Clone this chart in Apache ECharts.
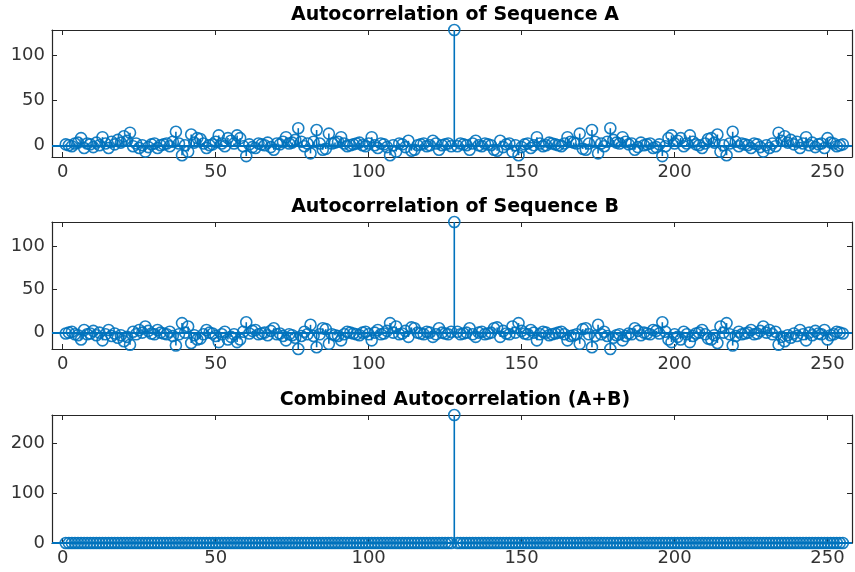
<!DOCTYPE html>
<html>
<head>
<meta charset="utf-8">
<title>Autocorrelation</title>
<script src="https://cdn.jsdelivr.net/npm/echarts@6/dist/echarts.min.js"></script>
<style>
  html, body { margin: 0; padding: 0; background: #fff; }
  #chart { width: 855px; height: 572px; }
</style>
</head>
<body>
<div id="chart"></div>
<script>
'use strict';

// titles of the three panels
var panelTitles = [
  'Autocorrelation of Sequence A',
  'Autocorrelation of Sequence B',
  'Combined Autocorrelation (A+B)'
];

// tick labels
var xTicks = [0, 50, 100, 150, 200, 250];
var yTicksA = [0, 50, 100];
var yTicksB = [0, 50, 100];
var yTicksAB = [0, 100, 200];

// first lag (x value of the first sample)
var firstLag = 1;

// autocorrelation of sequence A, lags 1..255
var seqA = [
  1, 0, -1, 2, 3, 8, -3, 2, 1, -2,
  3, 0, 9, 2, -3, 4, 1, 6, 3, 10,
  5, 14, -1, 2, -3, 0, -7, -2, 1, 2,
  -3, 0, 1, 2, -1, 4, 15, 2, -11, 0,
  -7, 12, 3, 8, 7, 2, -3, 0, 1, 4,
  11, 2, -1, 8, 5, 2, 11, 8, -1, -12,
  1, -2, -3, 2, 1, 0, 3, -2, -5, 2,
  1, 4, 9, 2, 3, 6, 19, 4, -1, 2,
  -9, 4, 17, 2, -5, -4, 13, 2, 3, 4,
  9, 2, -1, 0, 1, 2, 3, 0, -1, 2,
  9, 0, -3, 2, 1, -2, -11, 0, -7, 2,
  1, -2, 5, -6, -5, 0, 1, 2, -1, 0,
  5, 2, -5, 0, 1, 2, -1,
  128,
  -1, 2, 1, 0, -5, 2, 5,
  0, -1, 2, 1, 0, -5, -6, 5, -2, 1,
  2, -7, 0, -11, -2, 1, 2, -3, 0, 9,
  2, -1, 0, 3, 2, 1, 0, -1, 2, 9,
  4, 3, 2, 13, -4, -5, 2, 17, 4, -9,
  2, -1, 4, 19, 6, 3, 2, 9, 4, 1,
  2, -5, -2, 3, 0, 1, 2, -3, -2, 1,
  -12, -1, 8, 11, 2, 5, 8, -1, 2, 11,
  4, 1, 0, -3, 2, 7, 8, 3, 12, -7,
  0, -11, 2, 15, 4, -1, 2, 1, 0, -3,
  2, 1, -2, -7, 0, -3, 2, -1, 14, 5,
  10, 3, 6, 1, 4, -3, 2, 9, 0, 3,
  -2, 1, 2, -3, 8, 3, 2, -1, 0, 1
];

// autocorrelation of sequence B
var seqB = [
  -1, 0, 1, -2, -3, -8, 3, -2, -1, 2,
  -3, 0, -9, -2, 3, -4, -1, -6, -3, -10,
  -5, -14, 1, -2, 3, 0, 7, 2, -1, -2,
  3, 0, -1, -2, 1, -4, -15, -2, 11, 0,
  7, -12, -3, -8, -7, -2, 3, 0, -1, -4,
  -11, -2, 1, -8, -5, -2, -11, -8, 1, 12,
  -1, 2, 3, -2, -1, 0, -3, 2, 5, -2,
  -1, -4, -9, -2, -3, -6, -19, -4, 1, -2,
  9, -4, -17, -2, 5, 4, -13, -2, -3, -4,
  -9, -2, 1, 0, -1, -2, -3, 0, 1, -2,
  -9, 0, 3, -2, -1, 2, 11, 0, 7, -2,
  -1, 2, -5, 6, 5, 0, -1, -2, 1, 0,
  -5, -2, 5, 0, -1, -2, 1,
  128,
  1, -2, -1, 0, 5, -2, -5,
  0, 1, -2, -1, 0, 5, 6, -5, 2, -1,
  -2, 7, 0, 11, 2, -1, -2, 3, 0, -9,
  -2, 1, 0, -3, -2, -1, 0, 1, -2, -9,
  -4, -3, -2, -13, 4, 5, -2, -17, -4, 9,
  -2, 1, -4, -19, -6, -3, -2, -9, -4, -1,
  -2, 5, 2, -3, 0, -1, -2, 3, 2, -1,
  12, 1, -8, -11, -2, -5, -8, 1, -2, -11,
  -4, -1, 0, 3, -2, -7, -8, -3, -12, 7,
  0, 11, -2, -15, -4, 1, -2, -1, 0, 3,
  -2, -1, 2, 7, 0, 3, -2, 1, -14, -5,
  -10, -3, -6, -1, -4, 3, -2, -9, 0, -3,
  2, -1, -2, 3, -8, -3, -2, 1, 0, -1
];

// combined autocorrelation A+B
var seqAB = [
  0, 0, 0, 0, 0, 0, 0, 0, 0, 0,
  0, 0, 0, 0, 0, 0, 0, 0, 0, 0,
  0, 0, 0, 0, 0, 0, 0, 0, 0, 0,
  0, 0, 0, 0, 0, 0, 0, 0, 0, 0,
  0, 0, 0, 0, 0, 0, 0, 0, 0, 0,
  0, 0, 0, 0, 0, 0, 0, 0, 0, 0,
  0, 0, 0, 0, 0, 0, 0, 0, 0, 0,
  0, 0, 0, 0, 0, 0, 0, 0, 0, 0,
  0, 0, 0, 0, 0, 0, 0, 0, 0, 0,
  0, 0, 0, 0, 0, 0, 0, 0, 0, 0,
  0, 0, 0, 0, 0, 0, 0, 0, 0, 0,
  0, 0, 0, 0, 0, 0, 0, 0, 0, 0,
  0, 0, 0, 0, 0, 0, 0,
  256,
  0, 0, 0, 0, 0, 0, 0,
  0, 0, 0, 0, 0, 0, 0, 0, 0, 0,
  0, 0, 0, 0, 0, 0, 0, 0, 0, 0,
  0, 0, 0, 0, 0, 0, 0, 0, 0, 0,
  0, 0, 0, 0, 0, 0, 0, 0, 0, 0,
  0, 0, 0, 0, 0, 0, 0, 0, 0, 0,
  0, 0, 0, 0, 0, 0, 0, 0, 0, 0,
  0, 0, 0, 0, 0, 0, 0, 0, 0, 0,
  0, 0, 0, 0, 0, 0, 0, 0, 0, 0,
  0, 0, 0, 0, 0, 0, 0, 0, 0, 0,
  0, 0, 0, 0, 0, 0, 0, 0, 0, 0,
  0, 0, 0, 0, 0, 0, 0, 0, 0, 0,
  0, 0, 0, 0, 0, 0, 0, 0, 0, 0
];

var BLUE = '#0072BD';
var AXIS = '#262626';
var FONT = 'DejaVu Sans';

var panels = [
  { data: seqA, yTicks: yTicksA, yMin: -13, yMax: 128, top: 30, height: 127, titleTop: 6 },
  { data: seqB, yTicks: yTicksB, yMin: -19, yMax: 128, top: 222, height: 127, titleTop: 198 },
  { data: seqAB, yTicks: yTicksAB, yMin: 0, yMax: 256, top: 415, height: 128, titleTop: 391 }
];

var option = {
  animation: false,
  backgroundColor: '#fff',
  title: [], grid: [], xAxis: [], yAxis: [], series: []
};

panels.forEach(function (p, i) {
  var pairs = p.data.map(function (v, k) { return [k + firstLag, v]; });

  option.title.push({
    text: panelTitles[i],
    left: 455, top: p.titleTop, textAlign: 'center', padding: 0,
    textStyle: { fontFamily: FONT, fontSize: 19, fontWeight: 'bold', color: '#000' }
  });

  option.grid.push({ left: 52, width: 800, top: p.top, height: p.height });

  // bottom axis with labels, top axis for the box
  option.xAxis.push({
    type: 'value', gridIndex: i, min: -3.5, max: 258, position: 'bottom',
    axisLine: { show: true, onZero: false, lineStyle: { color: AXIS, width: 1.2 } },
    axisTick: { show: true, inside: true, length: 5, customValues: xTicks, lineStyle: { color: AXIS } },
    axisLabel: { customValues: xTicks, fontFamily: FONT, fontSize: 18, color: '#333', margin: 6 },
    splitLine: { show: false }
  });
  option.xAxis.push({
    type: 'value', gridIndex: i, min: -3.5, max: 258, position: 'top',
    axisLine: { show: true, onZero: false, lineStyle: { color: AXIS, width: 1.2 } },
    axisTick: { show: true, inside: true, length: 5, customValues: xTicks, lineStyle: { color: AXIS } },
    axisLabel: { show: false },
    splitLine: { show: false }
  });

  option.yAxis.push({
    type: 'value', gridIndex: i, min: p.yMin, max: p.yMax, position: 'left',
    axisLine: { show: true, onZero: false, lineStyle: { color: AXIS, width: 1.2 } },
    axisTick: { show: true, inside: true, length: 5, customValues: p.yTicks, lineStyle: { color: AXIS } },
    axisLabel: { customValues: p.yTicks, fontFamily: FONT, fontSize: 18, color: '#333', margin: 7 },
    splitLine: { show: false }
  });
  option.yAxis.push({
    type: 'value', gridIndex: i, min: p.yMin, max: p.yMax, position: 'right',
    axisLine: { show: true, onZero: false, lineStyle: { color: AXIS, width: 1.2 } },
    axisTick: { show: true, inside: true, length: 5, customValues: p.yTicks, lineStyle: { color: AXIS } },
    axisLabel: { show: false },
    splitLine: { show: false }
  });

  // stems
  option.series.push({
    type: 'custom', xAxisIndex: 2 * i, yAxisIndex: 2 * i, silent: true, z: 2,
    data: pairs,
    renderItem: function (params, api) {
      var p0 = api.coord([api.value(0), 0]);
      var p1 = api.coord([api.value(0), api.value(1)]);
      return {
        type: 'line',
        shape: { x1: p0[0], y1: p0[1], x2: p1[0], y2: p1[1] },
        style: { stroke: BLUE, lineWidth: 1.6 }
      };
    }
  });

  // hollow circle markers + baseline
  option.series.push({
    type: 'scatter', xAxisIndex: 2 * i, yAxisIndex: 2 * i, silent: true, z: 3,
    clip: false,
    symbol: 'circle', symbolSize: 11,
    itemStyle: { color: 'rgba(0,0,0,0)', borderColor: BLUE, borderWidth: 1.6, opacity: 0.9 },
    data: pairs,
    markLine: {
      silent: true, symbol: ['none', 'none'], label: { show: false },
      lineStyle: { color: BLUE, width: 2, type: 'solid' },
      data: [{ yAxis: 0 }]
    }
  });
});

var chart = echarts.init(document.getElementById('chart'));
chart.setOption(option);
</script>
</body>
</html>
